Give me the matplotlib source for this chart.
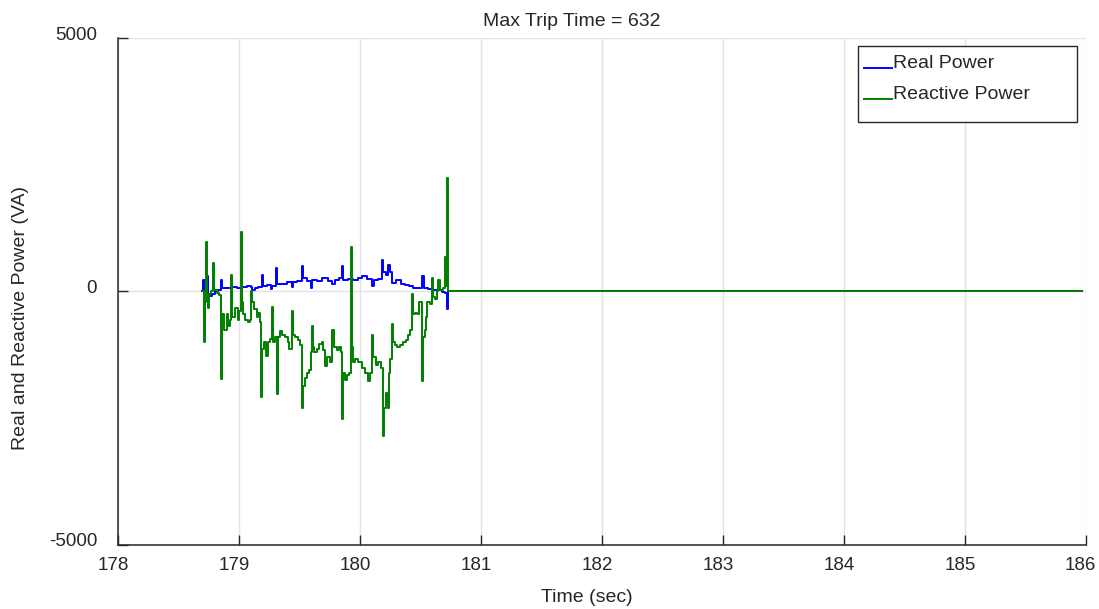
import numpy as np
import matplotlib.pyplot as plt
import matplotlib.transforms as mtransforms
from matplotlib.patches import Rectangle

plt.rcParams['font.family'] = ['Liberation Sans', 'DejaVu Sans']
plt.rcParams['axes.unicode_minus'] = False

# real power (VA)
t_real = [178.697, 178.705, 178.719, 178.730, 178.738, 178.746, 178.754, 178.774,
          178.801, 178.829, 178.851, 178.862, 178.898, 178.939, 178.980, 179.022,
          179.063, 179.099, 179.110, 179.132, 179.159, 179.187, 179.195, 179.228,
          179.264, 179.275, 179.305, 179.316, 179.352, 179.394, 179.435, 179.449,
          179.476, 179.518, 179.531, 179.559, 179.595, 179.606, 179.641, 179.683,
          179.710, 179.738, 179.765, 179.793, 179.829, 179.848, 179.862, 179.903,
          179.944, 179.986, 180.013, 180.055, 180.096, 180.115, 180.151, 180.179,
          180.192, 180.214, 180.234, 180.248, 180.261, 180.297, 180.336, 180.372,
          180.407, 180.440, 180.482, 180.515, 180.528, 180.564, 180.606, 180.647,
          180.675, 180.702, 180.716, 180.724, 185.97]
p_real = [0, 236, -26, 150, 300, -290, -90, -40,
          0, 20, 236, 72, 60, 80, 70, 92,
          100, 90, 20, 60, 90, 335, 110, 130,
          40, 110, 466, 150, 140, 180, 92, 190,
          200, 500, 260, 210, 60, 230, 200, 270,
          260, 200, 150, 230, 260, 500, 225, 240,
          220, 260, 300, 240, 110, 230, 250, 630,
          380, 330, 530, 380, 170, 220, 150, 130,
          100, 70, 60, 300, 70, 50, 20, 20,
          -10, -30, -340, 0, 0]

# reactive power (VA)
t_react = [178.705, 178.710, 178.719, 178.727, 178.733, 178.741, 178.752, 178.768,
           178.788, 178.796, 178.815, 178.834, 178.851, 178.856, 178.862, 178.878,
           178.898, 178.911, 178.925, 178.934, 178.942, 178.967, 178.989, 179.000,
           179.013, 179.022, 179.035, 179.049, 179.077, 179.093, 179.099, 179.110,
           179.126, 179.146, 179.159, 179.176, 179.181, 179.192, 179.209, 179.220,
           179.237, 179.256, 179.270, 179.278, 179.297, 179.314, 179.325, 179.338,
           179.358, 179.380, 179.402, 179.413, 179.435, 179.446, 179.462, 179.490,
           179.507, 179.518, 179.529, 179.545, 179.562, 179.581, 179.595, 179.600,
           179.608, 179.622, 179.641, 179.661, 179.683, 179.697, 179.710, 179.730,
           179.752, 179.771, 179.785, 179.807, 179.829, 179.845, 179.854, 179.862,
           179.876, 179.889, 179.911, 179.925, 179.933, 179.944, 179.958, 179.986,
           180.013, 180.041, 180.068, 180.082, 180.101, 180.110, 180.132, 180.151,
           180.173, 180.187, 180.198, 180.212, 180.228, 180.239, 180.248, 180.261,
           180.270, 180.289, 180.308, 180.330, 180.358, 180.380, 180.399, 180.413,
           180.427, 180.435, 180.454, 180.473, 180.490, 180.509, 180.520, 180.534,
           180.545, 180.556, 180.578, 180.595, 180.606, 180.619, 180.633, 180.647,
           180.661, 180.683, 180.702, 180.710, 180.716, 180.724, 185.97]
p_react = [0, -1000, -200, 970, -100, -320, -50, 0,
           570, 20, -30, -60, -1730, -600, -450, -750,
           -450, -680, -560, 330, -500, -330, -560, -380,
           1170, -200, -440, -560, -600, -560, 0, -200,
           -350, -500, -420, -600, -2090, -1140, -1000, -1270,
           -1000, -940, -300, -1000, -900, -2030, -900, -780,
           -850, -900, -1000, -1140, -390, -850, -900, -950,
           -1050, -2290, -1860, -1700, -1600, -1540, -1200, -680,
           -1100, -1200, -1140, -1040, -1000, -1150, -1470, -1300,
           -1400, -750, -1100, -1150, -1100, -1200, -2520, -1600,
           -1750, -1650, -1600, 870, -1100, -1400, -1340, -1400,
           -1500, -1600, -1770, -1600, -850, -1300, -1450, -1400,
           -1500, -2850, -2300, -2000, -2290, -1600, -1340, -650,
           -1000, -1050, -1100, -1050, -1000, -950, -850, -750,
           -50, -450, -430, -450, -200, -1770, -900, -750,
           -500, -200, -250, 270, -100, -150, 0, 230,
           30, 60, 690, 100, 2240, 0, 0]

xticks = [178, 179, 180, 181, 182, 183, 184, 185, 186]
yticks = [-5000, 0, 5000]
dark = '#262626'

fig = plt.figure(figsize=(10.99, 6.09), dpi=100)
ax = fig.add_axes([0.1074, 0.1051, 0.8806, 0.8325])

ax.plot(t_real, p_real, color='#0000ff', lw=1.4, drawstyle='steps-post', label='Real Power')
ax.plot(t_react, p_react, color='#008000', lw=1.4, drawstyle='steps-post', label='Reactive Power')

ax.set_xlim(178, 186)
ax.set_ylim(-5000, 5000)
ax.set_xticks(xticks)
ax.set_yticks(yticks)
ax.grid(True, color='#e3e3e3', lw=1)
ax.set_axisbelow(True)

for s in ['top', 'right']:
    ax.spines[s].set_visible(False)
for s in ['left', 'bottom']:
    ax.spines[s].set_color(dark)
    ax.spines[s].set_linewidth(1.1)

ax.tick_params(axis='both', direction='in', length=7, width=1, color=dark,
               labelcolor=dark, labelsize=13.5)
ax.tick_params(axis='x', pad=9)
ax.tick_params(axis='y', pad=15)

# labels sit a little up/left of their ticks, as in the source figure
yshift = mtransforms.ScaledTranslation(0, 5 / 100, fig.dpi_scale_trans)
for lab in ax.get_yticklabels():
    lab.set_transform(lab.get_transform() + yshift)
xshift = mtransforms.ScaledTranslation(-5 / 100, 0, fig.dpi_scale_trans)
for lab in ax.get_xticklabels():
    lab.set_transform(lab.get_transform() + xshift)

ax.text((587 - 118) / 968, -0.1124, 'Time (sec)', transform=ax.transAxes,
        ha='center', va='baseline', fontsize=14, color=dark)
ax.text(-0.101, 0.448, 'Real and Reactive Power (VA)', transform=ax.transAxes,
        ha='center', va='center', rotation=90, fontsize=14, color=dark)
ax.text((572 - 118) / 968, 1.0237, 'Max Trip Time = 632', transform=ax.transAxes,
        ha='center', va='baseline', fontsize=14, color=dark)

# legend box drawn separately so it can have the taller MATLAB proportions
box = Rectangle((0.7645, 0.8343), 0.2262, 0.1499, transform=ax.transAxes,
                facecolor='white', edgecolor=dark, lw=1, zorder=4)
ax.add_patch(box)
leg = ax.legend(loc='upper left', bbox_to_anchor=(0.7645, 0.5, 0.2262, 0.480),
                mode='expand', borderaxespad=0, fontsize=14, handlelength=1.45,
                handletextpad=0.05, labelspacing=0.72, borderpad=0.3,
                frameon=False)
leg.set_zorder(5)
for txt in leg.get_texts():
    txt.set_color(dark)
for ln in leg.get_lines():
    ln.set_ydata(np.zeros(len(ln.get_xdata())))

fig.savefig('out.png', dpi=100)
